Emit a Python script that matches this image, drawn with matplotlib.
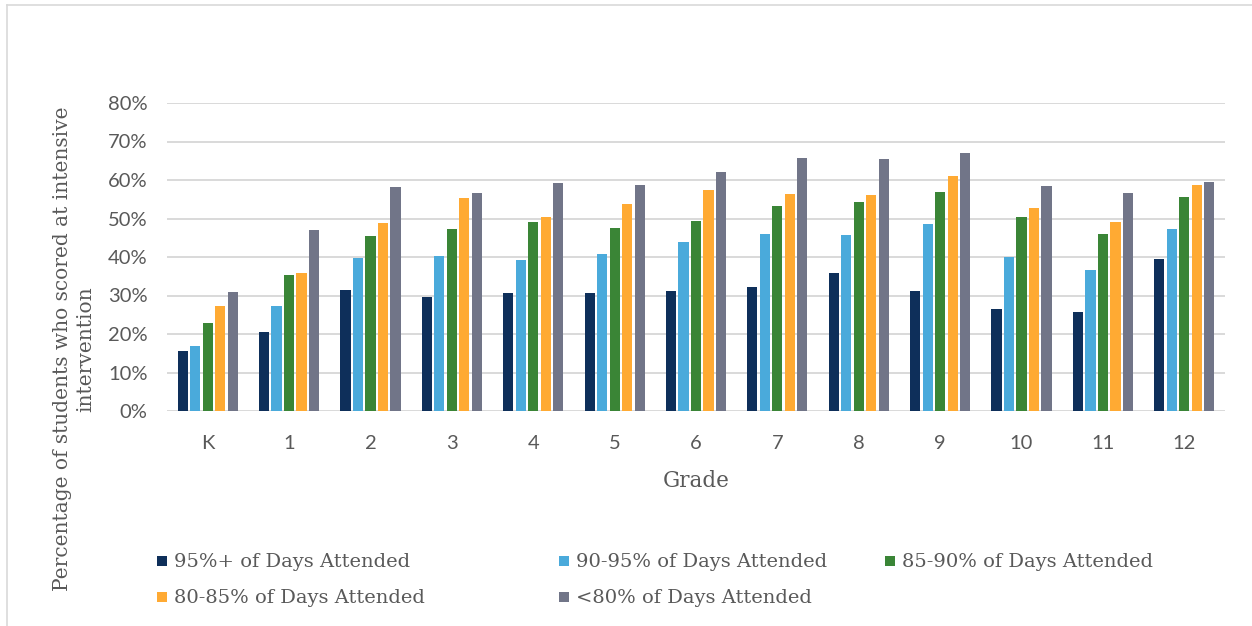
import matplotlib
matplotlib.use("Agg")
import matplotlib.pyplot as plt
from matplotlib.patches import Rectangle
from matplotlib.lines import Line2D
import numpy as np

grades = ["K", "1", "2", "3", "4", "5", "6", "7", "8", "9", "10", "11", "12"]
series_names = [
    "95%+ of Days Attended",
    "90-95% of Days Attended",
    "85-90% of Days Attended",
    "80-85% of Days Attended",
    "<80% of Days Attended",
]
attend_95_plus = [15.6, 20.5, 31.3, 29.5, 30.7, 30.7, 31.2, 32.1, 35.8, 31.1, 26.6, 25.6, 39.6]
attend_90_95 = [16.8, 27.2, 39.8, 40.3, 39.1, 40.9, 44.0, 45.9, 45.8, 48.6, 39.9, 36.5, 47.2]
attend_85_90 = [22.9, 35.2, 45.4, 47.3, 49.0, 47.5, 49.3, 53.2, 54.4, 56.9, 50.4, 45.9, 55.6]
attend_80_85 = [27.4, 35.8, 48.9, 55.4, 50.5, 53.7, 57.3, 56.4, 56.0, 61.0, 52.6, 49.2, 58.6]
attend_below_80 = [30.8, 47.1, 58.3, 56.6, 59.3, 58.6, 62.1, 65.6, 65.5, 66.9, 58.4, 56.6, 59.6]
yticks = [0, 10, 20, 30, 40, 50, 60, 70, 80]

series = [attend_95_plus, attend_90_95, attend_85_90, attend_80_85, attend_below_80]
colors = ["#0E2F5A", "#4AAADB", "#3A8536", "#FFAA33", "#717588"]

TXT = "#595959"
SANS = ["Lato", "DejaVu Sans"]
SERIF = ["DejaVu Serif"]

fig = plt.figure(figsize=(12.52, 6.26), dpi=100)
fig.patch.set_facecolor("white")
ax = fig.add_axes([167 / 1252, 1 - 411 / 626, (1225 - 167) / 1252, (411 - 103) / 626])

x = np.arange(len(grades))
pitch = 0.1536
width = 0.125
for i, (vals, c) in enumerate(zip(series, colors)):
    ax.bar(x + (i - 2) * pitch, vals, width=width, color=c, zorder=3)

ax.set_xlim(-0.5, len(grades) - 0.5)
ax.set_ylim(0, 80)
ax.set_yticks(yticks)
ax.set_yticklabels([f"{t}%" for t in yticks], fontfamily=SANS, fontsize=14.5, color=TXT)
ax.set_xticks(x)
ax.set_xticklabels(grades, fontfamily=SANS, fontsize=14.5, color=TXT)
ax.tick_params(axis="both", length=0)
ax.tick_params(axis="y", pad=14)
ax.tick_params(axis="x", pad=17)
ax.grid(axis="y", color="#D9D9D9", linewidth=1.4, zorder=0)
for s in ax.spines.values():
    s.set_visible(False)
ax.set_xlabel("Grade", fontfamily=SERIF, fontsize=15.5, color=TXT, labelpad=13)

fig.text(74 / 1252, 1 - 349 / 626,
         "Percentage of students who scored at intensive\nintervention",
         rotation=90, ha="center", va="center", fontfamily=SERIF,
         fontsize=14.5, color=TXT, linespacing=1.25)

# legend laid out in rows like the chart's bottom key
legend_pos = [(157, 561), (559, 561), (885, 561), (157, 597), (559, 597)]
for name, c, (px, py) in zip(series_names, colors, legend_pos):
    fig.patches.append(Rectangle((px / 1252, 1 - (py + 5) / 626), 10 / 1252, 10 / 626,
                                 transform=fig.transFigure, facecolor=c, edgecolor="none"))
    fig.text((px + 17) / 1252, 1 - (py + 1) / 626, name, ha="left", va="center",
             fontfamily=SERIF, fontsize=14, color=TXT)

# outer chart frame
fig.add_artist(Line2D([7 / 1252, 7 / 1252], [0, 1 - 5 / 626], transform=fig.transFigure,
                      color="#D9D9D9", linewidth=1.2))
fig.add_artist(Line2D([7 / 1252, 1], [1 - 5 / 626, 1 - 5 / 626], transform=fig.transFigure,
                      color="#D9D9D9", linewidth=1.2))

fig.savefig("out.png", dpi=100)
